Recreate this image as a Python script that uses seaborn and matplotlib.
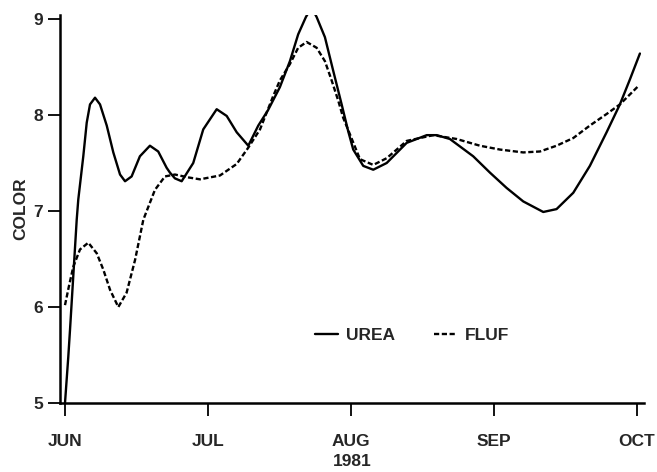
import pandas as pd
import matplotlib.pyplot as plt
import seaborn as sns

# ---------------------------
# DATA (x in months after 1 JUN)
# ---------------------------
urea_x = [0.000, 0.023, 0.035, 0.082, 0.093, 0.128, 0.152, 0.175, 0.210, 0.245,
          0.292, 0.338, 0.385, 0.420, 0.466, 0.524, 0.594, 0.652, 0.711, 0.734,
          0.769, 0.816, 0.897, 0.967, 1.061, 1.131, 1.201, 1.282, 1.352, 1.420,
          1.503, 1.573, 1.631, 1.685, 1.724, 1.760, 1.818, 1.876, 1.935, 1.981,
          2.016, 2.086, 2.156, 2.250, 2.390, 2.530, 2.600, 2.692, 2.855, 2.972,
          3.089, 3.205, 3.345, 3.438, 3.555, 3.671, 3.788, 3.881, 3.951, 4.021]
urea_y = [5.00, 5.48, 5.76, 6.91, 7.12, 7.57, 7.92, 8.11, 8.18, 8.11,
          7.89, 7.61, 7.38, 7.31, 7.36, 7.57, 7.68, 7.62, 7.45, 7.40,
          7.34, 7.31, 7.50, 7.85, 8.06, 7.99, 7.82, 7.68, 7.89, 8.05,
          8.29, 8.56, 8.84, 9.02, 9.12, 9.02, 8.81, 8.46, 8.11, 7.83,
          7.64, 7.47, 7.43, 7.50, 7.71, 7.79, 7.79, 7.75, 7.57, 7.40,
          7.24, 7.10, 6.99, 7.02, 7.19, 7.47, 7.82, 8.11, 8.37, 8.64]

fluf_x = [0.000, 0.028, 0.058, 0.105, 0.163, 0.222, 0.268, 0.315, 0.373, 0.431,
          0.490, 0.548, 0.629, 0.699, 0.769, 0.862, 0.944, 1.084, 1.201, 1.282,
          1.364, 1.457, 1.503, 1.573, 1.631, 1.690, 1.760, 1.818, 1.865, 1.911,
          1.946, 1.979, 2.063, 2.156, 2.250, 2.390, 2.576, 2.739, 2.902, 3.042,
          3.205, 3.322, 3.438, 3.555, 3.671, 3.788, 3.881, 4.009]
fluf_y = [6.02, 6.22, 6.42, 6.60, 6.67, 6.56, 6.39, 6.18, 6.00, 6.15,
          6.49, 6.91, 7.22, 7.36, 7.38, 7.35, 7.33, 7.37, 7.49, 7.66,
          7.85, 8.20, 8.36, 8.53, 8.70, 8.76, 8.70, 8.56, 8.36, 8.15,
          7.97, 7.85, 7.54, 7.48, 7.55, 7.73, 7.79, 7.75, 7.68, 7.64,
          7.61, 7.62, 7.68, 7.76, 7.89, 8.01, 8.11, 8.30]

months = ['JUN', 'JUL', 'AUG', 'SEP', 'OCT']
yticks = [5, 6, 7, 8, 9]

urea = pd.DataFrame({'month': urea_x, 'color': urea_y})
fluf = pd.DataFrame({'month': fluf_x, 'color': fluf_y})

# ---------------------------
# PLOT
# ---------------------------
sns.set_style("ticks")
plt.rcParams['font.family'] = ['Liberation Sans', 'DejaVu Sans']
plt.rcParams['font.weight'] = 'bold'
plt.rcParams['lines.solid_joinstyle'] = 'round'
plt.rcParams['lines.dash_joinstyle'] = 'round'

fig = plt.figure(figsize=(6.57, 4.72), dpi=100)
ax = fig.add_axes([0.0913, 0.146, 0.889, 0.822])

sns.lineplot(data=urea, x='month', y='color', ax=ax, color='black',
             linewidth=1.7, sort=False, label='UREA')
sns.lineplot(data=fluf, x='month', y='color', ax=ax, color='black',
             linewidth=1.7, sort=False, label='FLUF', linestyle=(0, (2.2, 1.1)))

ax.set_xlim(-0.035, 4.05)
ax.set_ylim(5, 9.04)
ax.set_xticks(range(len(months)))
ax.set_xticklabels(months, fontsize=12.5, fontweight='bold')
ax.set_yticks(yticks)
ax.set_yticklabels([str(v) for v in yticks], fontsize=12.5, fontweight='bold')
ax.tick_params(axis='both', length=9, width=1.3, color='black', direction='out')
ax.tick_params(axis='x', pad=13)
ax.tick_params(axis='y', pad=3)

sns.despine(ax=ax)
for side in ['left', 'bottom']:
    ax.spines[side].set_linewidth(1.8)
    ax.spines[side].set_color('black')

ax.set_xlabel('1981', fontsize=12.5, fontweight='bold', labelpad=4)
ax.set_ylabel('COLOR', fontsize=12.5, fontweight='bold', labelpad=4)

leg = ax.legend(loc='center', bbox_to_anchor=(0.603, 0.175), ncol=2,
                frameon=False, handlelength=1.3, handletextpad=0.45,
                columnspacing=2.3, prop={'size': 12.5, 'weight': 'bold'})

plt.savefig("out.png", dpi=100)
